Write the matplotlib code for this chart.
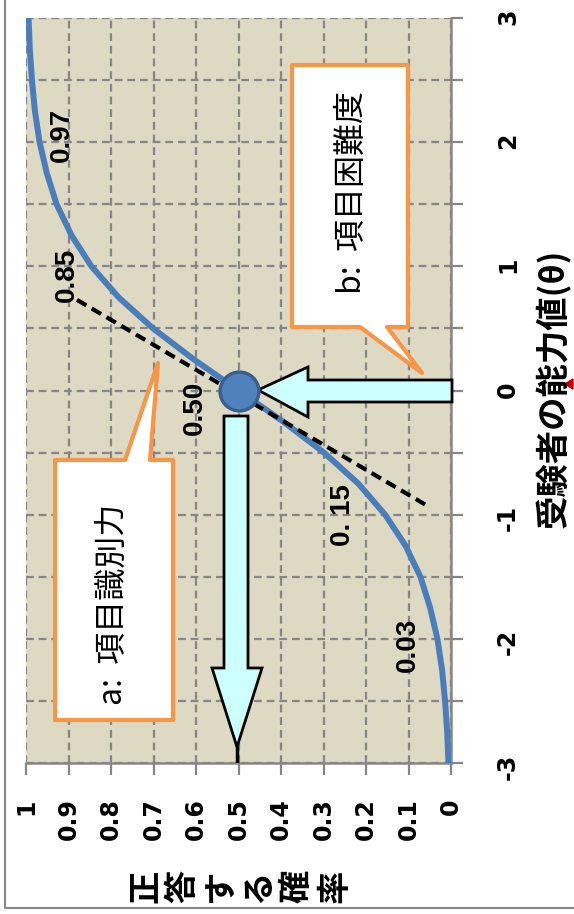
import numpy as np
import matplotlib.pyplot as plt
from matplotlib.patches import Polygon
from matplotlib.lines import Line2D
from matplotlib.transforms import Affine2D

# item characteristic curve
theta = [-3.0, -2.75, -2.5, -2.25, -2.0, -1.75, -1.5, -1.25, -1.0, -0.75, -0.5, -0.25,
         0.0, 0.25, 0.5, 0.75, 1.0, 1.25, 1.5, 1.75, 2.0, 2.25, 2.5, 2.75, 3.0]
p_correct = [0.006, 0.009, 0.014, 0.021, 0.032, 0.049, 0.072, 0.107, 0.155, 0.218, 0.299, 0.395,
             0.500, 0.605, 0.701, 0.782, 0.846, 0.893, 0.928, 0.951, 0.968, 0.979, 0.986, 0.991, 0.994]

# tangent at theta = 0
tangent_theta = [0.73, -0.94]
tangent_p = [0.88, 0.05]

p_ticks = [0, 0.1, 0.2, 0.3, 0.4, 0.5, 0.6, 0.7, 0.8, 0.9, 1]
p_ticklabels = ['0', '0.1', '0.2', '0.3', '0.4', '0.5', '0.6', '0.7', '0.8', '0.9', '1']
theta_ticks = [-3, -2.5, -2, -1.5, -1, -0.5, 0, 0.5, 1, 1.5, 2, 2.5, 3]
theta_ticklabels = ['-3', '', '-2', '', '-1', '', '0', '', '1', '', '2', '', '3']

value_labels = ['0.97', '0.85', '0.50', '0. 15', '0.03']

W, H = 574, 914
fig = plt.figure(figsize=(W / 100, H / 100), dpi=100)
fig.patch.set_facecolor('white')
# pixel coords measured from top-left corner
pix = Affine2D().scale(1, -1).translate(0, H)

ax = fig.add_axes([26 / W, 1 - 763 / H, 425 / W, 745 / H])
ax.set_facecolor('#DDD9C3')
gray = '#868686'

ax.plot(p_correct, theta, color='#4A7EBB', lw=4.3, zorder=3)
ax.plot(tangent_p, tangent_theta, color='black', lw=3, ls=(0, (2.6, 1.5)), zorder=3.5)
ax.plot([0.5], [0], 'o', ms=28, mfc='#4F81BD', mec='#3A5F8F', mew=2.4, zorder=6)

ax.set_xlim(1, 0)
ax.set_ylim(-3, 3)
tick_font = dict(family='DejaVu Sans', fontweight='bold', fontsize=17)
ax.set_xticks(p_ticks)
ax.set_xticklabels(p_ticklabels, rotation=90, **tick_font)
ax.yaxis.tick_right()
ax.set_yticks(theta_ticks)
ax.set_yticklabels(theta_ticklabels, rotation=90, **tick_font)
ax.grid(True, color=gray, lw=1.6, ls=(0, (3.5, 2.2)))
ax.set_axisbelow(True)
for s in ['top', 'left']:
    ax.spines[s].set_visible(False)
for s in ['right', 'bottom']:
    ax.spines[s].set_color(gray)
    ax.spines[s].set_linewidth(1.8)
ax.tick_params(direction='out', length=8.5, width=1.6, color=gray, labelcolor='black')
ax.tick_params(axis='x', pad=17)
ax.tick_params(axis='y', pad=24)

# arrows
edge = dict(facecolor='#CCFFFF', edgecolor='black', lw=2, zorder=4, clip_on=False, transform=pix)
ax.add_patch(Polygon([(258, 390), (308, 367), (308, 380), (452, 380), (452, 402),
                      (308, 402), (308, 417)], closed=True, **edge))
ax.add_patch(Polygon([(224, 416), (248, 416), (248, 668), (262, 668), (237, 747),
                      (212, 668), (224, 668)], closed=True, **edge))
ax.add_line(Line2D([237, 237], [745, 763], color='black', lw=2.5, transform=pix, zorder=4))

# callouts
call = dict(facecolor='white', edgecolor='#F79646', lw=3, joinstyle='round', zorder=4,
            clip_on=False, transform=pix)
ax.add_patch(Polygon([(292, 65), (408, 65), (408, 327), (387, 327), (422, 373),
                      (360, 327), (292, 327)], closed=True, **call))
ax.add_patch(Polygon([(55, 460), (125, 460), (158, 363), (150, 460), (173, 460),
                      (173, 720), (55, 720)], closed=True, **call))
box_font = dict(family=['Noto Sans CJK JP', 'DejaVu Sans'], fontsize=23, rotation=90,
                ha='center', va='center', transform=pix, zorder=7)
ax.text(352, 192, 'b:  項目困難度', **box_font)
ax.text(113, 604, 'a:  項目識別力', **box_font)

# value labels
label_pos = [(62, 135), (67, 275), (195, 408), (343, 515), (408, 645)]
for s, (x, y) in zip(value_labels, label_pos):
    ax.text(x, y, s, family='Liberation Sans', fontweight='bold', fontsize=20, rotation=90,
            ha='center', va='center', transform=pix, zorder=7)

# axis titles
title_font = dict(family=['Noto Sans CJK JP', 'DejaVu Sans'], fontweight='bold',
                  rotation=90, ha='center', va='center', transform=pix)
for i, ch in enumerate('正答する確率'):
    fig.text(145 + 38 * i, 886, ch, fontsize=24, **title_font)
fig.text(553, 388, '受験者の能力値(θ)', fontsize=24, **title_font)
fig.add_artist(Polygon([(565, 384), (573, 379), (573, 389)], closed=True,
                       color='#C00000', transform=pix))

# outer frame
fig.add_artist(Line2D([5, 5, W], [0, 908, 908], color=gray, lw=1.5, transform=pix))

fig.savefig('out.png', dpi=100)
